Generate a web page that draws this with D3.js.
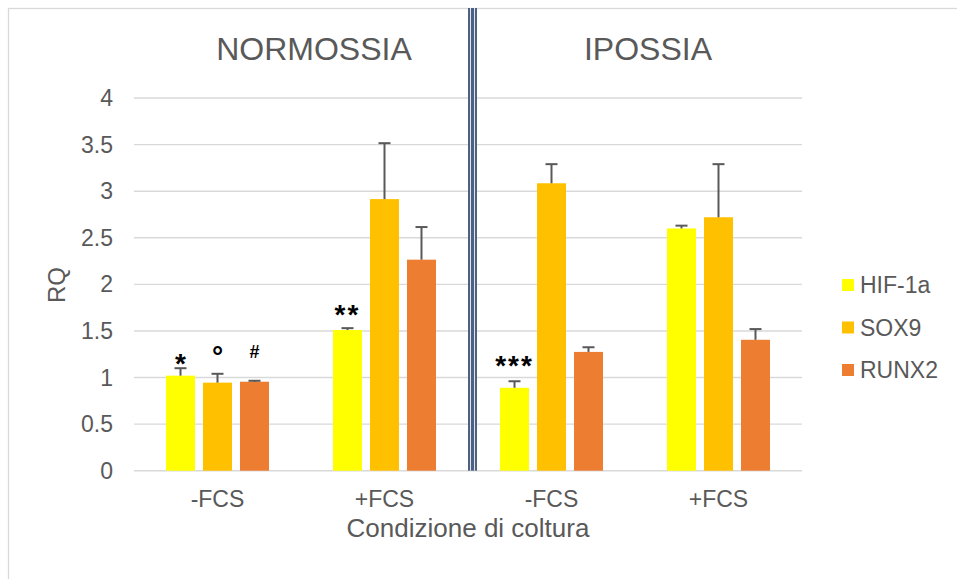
<!DOCTYPE html>
<html lang="it"><head>
<meta charset="utf-8"/>
<title>RQ - Condizione di coltura</title>
<script src="https://d3js.org/d3.v7.min.js"></script>
<style>
  body { margin: 0; padding: 0; background: #fff; width: 957px; height: 579px; overflow: hidden; }
  svg text { font-family: "Liberation Sans", Arial, sans-serif; fill: #595959; }
</style>
</head>
<body>
<div id="chart"></div>
<script>
// Data
const categories = ["-FCS", "+FCS", "-FCS", "+FCS"];
const conditions = ["NORMOSSIA", "IPOSSIA"];
const seriesNames = ["HIF-1a", "SOX9", "RUNX2"];
const seriesColors = ["#FFFF00", "#FFC000", "#ED7D31"];
const hif = [1.02, 1.51, 0.89, 2.60];
const sox9 = [0.945, 2.915, 3.085, 2.72];
const runx2 = [0.955, 2.265, 1.275, 1.405];
const hifErr = [0.08, 0.02, 0.07, 0.03];
const sox9Err = [0.095, 0.60, 0.205, 0.57];
const runx2Err = [0.01, 0.35, 0.05, 0.115];
const yTicks = [0, 0.5, 1, 1.5, 2, 2.5, 3, 3.5, 4];
// significance marks: category index, series index, label, level (RQ)
const marks = [
  { cat: 0, s: 0, text: "*", level: 1.23 },
  { cat: 0, s: 1, text: "°", level: 1.30 },
  { cat: 0, s: 2, text: "#", level: 1.28 },
  { cat: 1, s: 0, text: "**", level: 1.75 },
  { cat: 2, s: 0, text: "***", level: 1.21 }
];

const values = [hif, sox9, runx2];
const errors = [hifErr, sox9Err, runx2Err];

const W = 957, H = 579;
const svg = d3.select("#chart").append("svg")
  .attr("width", W).attr("height", H);

// outer chart-area border (runs off the right/bottom edge)
svg.append("rect")
  .attr("x", 8.5).attr("y", 8.5)
  .attr("width", 1000).attr("height", 1000)
  .attr("fill", "none").attr("stroke", "#d9d9d9").attr("stroke-width", 1.3);

const x = d3.scaleBand()
  .domain(d3.range(categories.length))
  .range([134, 802]);

const xs = d3.scaleBand()
  .domain(d3.range(seriesNames.length))
  .range([0, x.bandwidth()])
  .paddingInner(0.216)
  .paddingOuter(0.865);

const y = d3.scaleLinear().domain([0, 4]).range([470.7, 98]);

// gridlines
svg.append("g")
  .selectAll("line").data(yTicks).join("line")
  .attr("x1", 134).attr("x2", 802)
  .attr("y1", d => y(d)).attr("y2", d => y(d))
  .attr("stroke", "#d9d9d9").attr("stroke-width", 1.4);

// y tick labels
svg.append("g")
  .selectAll("text").data(yTicks).join("text")
  .attr("x", 113).attr("y", d => y(d))
  .attr("text-anchor", "end").attr("dy", "0.35em")
  .style("font-size", "23px")
  .text(d => d);

// bars
const groups = svg.append("g").selectAll("g")
  .data(d3.range(categories.length)).join("g")
  .attr("transform", i => `translate(${x(i)},0)`);

groups.selectAll("rect")
  .data(i => values.map((v, s) => ({ s, v: v[i] })))
  .join("rect")
  .attr("x", d => xs(d.s))
  .attr("width", xs.bandwidth())
  .attr("y", d => y(d.v))
  .attr("height", d => y(0) - y(d.v))
  .attr("fill", d => seriesColors[d.s]);

// error bars (+ only)
const eb = groups.selectAll("g.err")
  .data(i => values.map((v, s) => ({ s, v: v[i], e: errors[s][i] })))
  .join("g").attr("class", "err");
eb.append("line")
  .attr("x1", d => xs(d.s) + xs.bandwidth() / 2)
  .attr("x2", d => xs(d.s) + xs.bandwidth() / 2)
  .attr("y1", d => y(d.v)).attr("y2", d => y(d.v + d.e))
  .attr("stroke", "#595959").attr("stroke-width", 2);
eb.append("line")
  .attr("x1", d => xs(d.s) + xs.bandwidth() / 2 - 6)
  .attr("x2", d => xs(d.s) + xs.bandwidth() / 2 + 6)
  .attr("y1", d => y(d.v + d.e)).attr("y2", d => y(d.v + d.e))
  .attr("stroke", "#595959").attr("stroke-width", 2);

// category labels
svg.append("g")
  .selectAll("text").data(categories).join("text")
  .attr("x", (d, i) => x(i) + x.bandwidth() / 2)
  .attr("y", 507)
  .attr("text-anchor", "middle")
  .style("font-size", "23px")
  .text(d => d);

// divider between conditions
const xDiv = x(2);
const div = svg.append("g");
div.append("rect")
  .attr("x", xDiv).attr("y", 8)
  .attr("width", 9).attr("height", y(0) - 8)
  .attr("fill", "#4f6180");
[xDiv + 2.5, xDiv + 6.5].forEach(px => {
  div.append("line")
    .attr("x1", px).attr("x2", px).attr("y1", 8).attr("y2", y(0))
    .attr("stroke", "#dfe5ee").attr("stroke-width", 1);
});

// condition titles
conditions.forEach((c, k) => {
  const cx = (x(2 * k) + x(2 * k + 1) + x.bandwidth()) / 2 + 13;
  svg.append("text")
    .attr("x", cx).attr("y", 60)
    .attr("text-anchor", "middle")
    .style("font-size", "32px")
    .text(c);
});

// significance marks
svg.append("g")
  .selectAll("text").data(marks).join("text")
  .attr("x", d => x(d.cat) + xs(d.s) + xs.bandwidth() / 2)
  .attr("y", d => y(d.level))
  .attr("text-anchor", "middle")
  .attr("dy", d => d.text === "#" ? "0.35em" : "0.6em")
  .style("font-size", d => d.text === "#" ? "18px" : "28px")
  .style("font-weight", "bold")
  .style("letter-spacing", d => d.text.length > 1 ? "2px" : "0px")
  .style("fill", "#000")
  .text(d => d.text);

// axis titles
svg.append("text")
  .attr("x", 468).attr("y", 537)
  .attr("text-anchor", "middle")
  .style("font-size", "26px")
  .text("Condizione di coltura");

svg.append("text")
  .attr("transform", "translate(57,285) rotate(-90)")
  .attr("text-anchor", "middle").attr("dy", "0.35em")
  .style("font-size", "24px")
  .text("RQ");

// legend
const legend = svg.append("g")
  .selectAll("g").data(seriesNames).join("g")
  .attr("transform", (d, i) => `translate(842,${285 + i * 42.5})`);
legend.append("rect")
  .attr("x", 0).attr("y", -6).attr("width", 12).attr("height", 12)
  .attr("fill", (d, i) => seriesColors[i]);
legend.append("text")
  .attr("x", 18).attr("dy", "0.35em")
  .style("font-size", "23px")
  .text(d => d);
</script>
</body></html>
